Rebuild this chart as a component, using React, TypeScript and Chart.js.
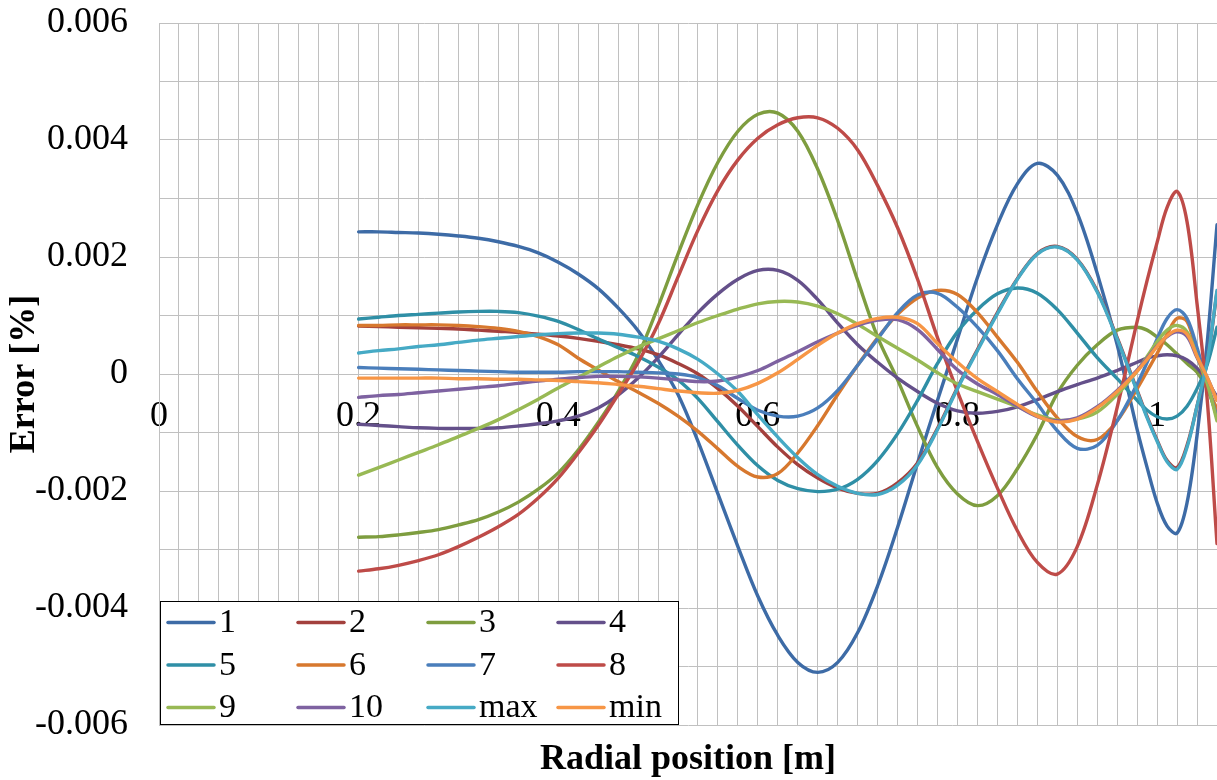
import React, { useEffect, useRef } from 'react';
import { Chart, registerables } from 'chart.js';

Chart.register(...registerables);

// Radial positions [m] (shared x values)
const radialPositions = [
  0.2, 0.22, 0.24, 0.26, 0.28, 0.3, 0.32, 0.34, 0.36, 0.38,
  0.4, 0.42, 0.44, 0.46, 0.48, 0.5, 0.52, 0.54, 0.56, 0.58,
  0.6, 0.62, 0.64, 0.66, 0.68, 0.7, 0.72, 0.74, 0.76, 0.78,
  0.8, 0.82, 0.84, 0.86, 0.88, 0.9, 0.92, 0.94, 0.96, 0.98,
  0.99, 1.0, 1.01, 1.02, 1.03, 1.04, 1.05, 1.06,
];

const series1 = [
  2.43e-3, 2.43e-3, 2.42e-3, 2.41e-3, 2.39e-3, 2.36e-3, 2.32e-3, 2.26e-3, 2.18e-3, 2.07e-3,
  1.91e-3, 1.71e-3, 1.46e-3, 1.13e-3, 0.74e-3, 0.24e-3, -0.35e-3, -1.15e-3, -2.05e-3, -2.95e-3,
  -3.8e-3, -4.47e-3, -4.93e-3, -5.1e-3, -4.93e-3, -4.42e-3, -3.62e-3, -2.62e-3, -1.52e-3, -0.45e-3,
  0.6e-3, 1.65e-3, 2.55e-3, 3.25e-3, 3.6e-3, 3.4e-3, 2.75e-3, 1.72e-3, 0.5e-3, -0.95e-3,
  -1.6e-3, -2.2e-3, -2.6e-3, -2.72e-3, -2.2e-3, -1.05e-3, 0.5e-3, 2.55e-3,
];
const series2 = [
  0.82e-3, 0.81e-3, 0.8e-3, 0.79e-3, 0.78e-3, 0.77e-3, 0.75e-3, 0.73e-3, 0.71e-3, 0.68e-3,
  0.65e-3, 0.61e-3, 0.56e-3, 0.5e-3, 0.43e-3, 0.33e-3, 0.18e-3, 0, -0.25e-3, -0.55e-3,
  -0.9e-3, -1.25e-3, -1.55e-3, -1.78e-3, -1.95e-3, -2.04e-3, -2.04e-3, -1.86e-3, -1.52e-3, -0.93e-3,
  -0.23e-3, 0.42e-3, 1.05e-3, 1.63e-3, 2.06e-3, 2.18e-3, 1.96e-3, 1.42e-3, 0.62e-3, -0.28e-3,
  -0.73e-3, -1.13e-3, -1.48e-3, -1.6e-3, -1.22e-3, -0.55e-3, 0.2e-3, 1.4e-3,
];
const series3 = [
  -2.79e-3, -2.78e-3, -2.75e-3, -2.71e-3, -2.66e-3, -2.58e-3, -2.49e-3, -2.36e-3, -2.19e-3, -1.97e-3,
  -1.69e-3, -1.3e-3, -0.83e-3, -0.3e-3, 0.32e-3, 1.15e-3, 2.05e-3, 2.9e-3, 3.62e-3, 4.15e-3,
  4.44e-3, 4.46e-3, 4.15e-3, 3.5e-3, 2.62e-3, 1.6e-3, 0.63e-3, -0.1e-3, -0.9e-3, -1.6e-3,
  -2.05e-3, -2.25e-3, -2.08e-3, -1.62e-3, -1.03e-3, -0.33e-3, 0.15e-3, 0.5e-3, 0.75e-3, 0.8e-3,
  0.75e-3, 0.63e-3, 0.5e-3, 0.34e-3, 0.18e-3, 0.03e-3, -0.25e-3, -0.7e-3,
];
const series4 = [
  -0.86e-3, -0.88e-3, -0.9e-3, -0.92e-3, -0.93e-3, -0.93e-3, -0.93e-3, -0.92e-3, -0.89e-3, -0.85e-3,
  -0.8e-3, -0.72e-3, -0.58e-3, -0.36e-3, -0.07e-3, 0.28e-3, 0.67e-3, 1.05e-3, 1.37e-3, 1.62e-3,
  1.77e-3, 1.77e-3, 1.6e-3, 1.27e-3, 0.87e-3, 0.5e-3, 0.2e-3, -0.07e-3, -0.3e-3, -0.5e-3,
  -0.63e-3, -0.67e-3, -0.64e-3, -0.56e-3, -0.44e-3, -0.3e-3, -0.18e-3, -0.07e-3, 0.06e-3, 0.2e-3,
  0.27e-3, 0.31e-3, 0.33e-3, 0.31e-3, 0.24e-3, 0.1e-3, -0.12e-3, -0.39e-3,
];
const series5 = [
  0.94e-3, 0.97e-3, 1.0e-3, 1.02e-3, 1.04e-3, 1.06e-3, 1.07e-3, 1.07e-3, 1.05e-3, 0.99e-3,
  0.9e-3, 0.76e-3, 0.6e-3, 0.45e-3, 0.3e-3, 0.12e-3, -0.1e-3, -0.42e-3, -0.82e-3, -1.22e-3,
  -1.57e-3, -1.82e-3, -1.96e-3, -2.01e-3, -1.97e-3, -1.8e-3, -1.48e-3, -1.02e-3, -0.45e-3, 0.18e-3,
  0.72e-3, 1.1e-3, 1.37e-3, 1.47e-3, 1.38e-3, 1.1e-3, 0.7e-3, 0.28e-3, -0.08e-3, -0.45e-3,
  -0.62e-3, -0.73e-3, -0.77e-3, -0.72e-3, -0.55e-3, -0.25e-3, 0.15e-3, 0.8e-3,
];
const series6 = [
  0.83e-3, 0.83e-3, 0.84e-3, 0.84e-3, 0.84e-3, 0.83e-3, 0.81e-3, 0.78e-3, 0.73e-3, 0.64e-3,
  0.5e-3, 0.27e-3, 0.07e-3, -0.13e-3, -0.31e-3, -0.5e-3, -0.72e-3, -0.98e-3, -1.28e-3, -1.58e-3,
  -1.76e-3, -1.7e-3, -1.35e-3, -0.88e-3, -0.35e-3, 0.15e-3, 0.62e-3, 1.02e-3, 1.3e-3, 1.43e-3,
  1.36e-3, 1.05e-3, 0.63e-3, 0.2e-3, -0.3e-3, -0.75e-3, -1.07e-3, -1.12e-3, -0.8e-3, -0.25e-3,
  0.05e-3, 0.35e-3, 0.68e-3, 0.95e-3, 0.9e-3, 0.35e-3, -0.2e-3, -0.6e-3,
];
const series7 = [
  0.11e-3, 0.1e-3, 0.09e-3, 0.08e-3, 0.07e-3, 0.06e-3, 0.05e-3, 0.04e-3, 0.03e-3, 0.03e-3,
  0.03e-3, 0.04e-3, 0.04e-3, 0.04e-3, 0.03e-3, 0.02e-3, 0, -0.06e-3, -0.2e-3, -0.42e-3,
  -0.62e-3, -0.72e-3, -0.72e-3, -0.58e-3, -0.28e-3, 0.15e-3, 0.6e-3, 1.05e-3, 1.35e-3, 1.38e-3,
  1.14e-3, 0.8e-3, 0.4e-3, -0.08e-3, -0.51e-3, -0.97e-3, -1.27e-3, -1.22e-3, -0.8e-3, -0.17e-3,
  0.2e-3, 0.6e-3, 0.95e-3, 1.1e-3, 0.95e-3, 0.45e-3, -0.15e-3, -0.75e-3,
];
const series8 = [
  -3.37e-3, -3.33e-3, -3.27e-3, -3.19e-3, -3.09e-3, -2.95e-3, -2.79e-3, -2.61e-3, -2.4e-3, -2.12e-3,
  -1.78e-3, -1.35e-3, -0.88e-3, -0.35e-3, 0.2e-3, 0.85e-3, 1.66e-3, 2.46e-3, 3.14e-3, 3.66e-3,
  4.03e-3, 4.26e-3, 4.38e-3, 4.38e-3, 4.2e-3, 3.83e-3, 3.22e-3, 2.5e-3, 1.62e-3, 0.62e-3,
  -0.3e-3, -1.15e-3, -1.95e-3, -2.68e-3, -3.22e-3, -3.42e-3, -2.95e-3, -1.9e-3, -0.57e-3, 0.9e-3,
  1.6e-3, 2.25e-3, 2.85e-3, 3.12e-3, 2.6e-3, 1.2e-3, -0.4e-3, -2.9e-3,
];
const series9 = [
  -1.73e-3, -1.6e-3, -1.47e-3, -1.34e-3, -1.21e-3, -1.07e-3, -0.93e-3, -0.78e-3, -0.61e-3, -0.43e-3,
  -0.24e-3, -0.06e-3, 0.12e-3, 0.3e-3, 0.46e-3, 0.6e-3, 0.74e-3, 0.88e-3, 1.0e-3, 1.11e-3,
  1.2e-3, 1.24e-3, 1.23e-3, 1.16e-3, 1.03e-3, 0.85e-3, 0.64e-3, 0.44e-3, 0.24e-3, 0.02e-3,
  -0.17e-3, -0.3e-3, -0.43e-3, -0.56e-3, -0.7e-3, -0.79e-3, -0.77e-3, -0.65e-3, -0.35e-3, 0.05e-3,
  0.3e-3, 0.55e-3, 0.75e-3, 0.83e-3, 0.72e-3, 0.3e-3, -0.15e-3, -0.8e-3,
];
const series10 = [
  -0.4e-3, -0.37e-3, -0.35e-3, -0.32e-3, -0.29e-3, -0.26e-3, -0.23e-3, -0.2e-3, -0.16e-3, -0.12e-3,
  -0.09e-3, -0.06e-3, -0.04e-3, -0.04e-3, -0.05e-3, -0.07e-3, -0.1e-3, -0.13e-3, -0.12e-3, -0.05e-3,
  0.06e-3, 0.22e-3, 0.38e-3, 0.55e-3, 0.7e-3, 0.83e-3, 0.92e-3, 0.93e-3, 0.76e-3, 0.42e-3,
  0.07e-3, -0.17e-3, -0.35e-3, -0.55e-3, -0.73e-3, -0.8e-3, -0.75e-3, -0.56e-3, -0.28e-3, 0.07e-3,
  0.27e-3, 0.48e-3, 0.64e-3, 0.72e-3, 0.64e-3, 0.28e-3, -0.05e-3, -0.45e-3,
];
const seriesMax = [
  0.36e-3, 0.4e-3, 0.43e-3, 0.47e-3, 0.5e-3, 0.54e-3, 0.58e-3, 0.61e-3, 0.64e-3, 0.67e-3,
  0.69e-3, 0.7e-3, 0.7e-3, 0.68e-3, 0.63e-3, 0.56e-3, 0.43e-3, 0.25e-3, 0, -0.3e-3,
  -0.7e-3, -1.08e-3, -1.43e-3, -1.72e-3, -1.92e-3, -2.04e-3, -2.06e-3, -1.9e-3, -1.55e-3, -0.95e-3,
  -0.25e-3, 0.4e-3, 1.03e-3, 1.62e-3, 2.05e-3, 2.17e-3, 1.95e-3, 1.4e-3, 0.6e-3, -0.3e-3,
  -0.75e-3, -1.15e-3, -1.5e-3, -1.63e-3, -1.25e-3, -0.55e-3, 0.2e-3, 1.43e-3,
];
const seriesMin = [
  -0.07e-3, -0.07e-3, -0.07e-3, -0.07e-3, -0.07e-3, -0.08e-3, -0.08e-3, -0.09e-3, -0.09e-3, -0.1e-3,
  -0.11e-3, -0.13e-3, -0.15e-3, -0.18e-3, -0.21e-3, -0.25e-3, -0.29e-3, -0.32e-3, -0.33e-3, -0.28e-3,
  -0.16e-3, 0.02e-3, 0.25e-3, 0.49e-3, 0.7e-3, 0.86e-3, 0.95e-3, 0.97e-3, 0.86e-3, 0.52e-3,
  0.2e-3, -0.08e-3, -0.3e-3, -0.52e-3, -0.72e-3, -0.82e-3, -0.77e-3, -0.58e-3, -0.3e-3, 0.05e-3,
  0.25e-3, 0.47e-3, 0.65e-3, 0.75e-3, 0.68e-3, 0.3e-3, -0.05e-3, -0.45e-3,
];

const seriesNames = ['1', '2', '3', '4', '5', '6', '7', '8', '9', '10', 'max', 'min'];
const seriesColors = [
  '#3D6BA6', '#A3403D', '#7E9D3F', '#64508A', '#2F8FA6', '#D7782E',
  '#4A7EBB', '#BE4B48', '#98B954', '#7E62A1', '#46AAC5', '#F79646',
];

const xTitle = 'Radial position [m]';
const yTitle = 'Error [%]';

const FONT = "'Liberation Serif', 'Times New Roman', serif";
const GRID = '#c0c0c0';

const textPlugin = {
  id: 'customText',
  afterDraw(chart: any) {
    const ctx = chart.ctx as CanvasRenderingContext2D;
    const ca = chart.chartArea;
    ctx.save();
    // axis titles
    ctx.fillStyle = '#000';
    ctx.font = `bold 36px ${FONT}`;
    ctx.textAlign = 'center';
    ctx.textBaseline = 'middle';
    ctx.fillText(xTitle, (ca.left + ca.right) / 2, 760);
    ctx.save();
    ctx.translate(25, (ca.top + ca.bottom) / 2);
    ctx.rotate(-Math.PI / 2);
    ctx.fillText(yTitle, 0, 0);
    ctx.restore();

    // legend box
    const bx = ca.left + 1;
    const by = 601;
    const bw = 519;
    const bh = ca.bottom - by;
    ctx.fillStyle = '#fff';
    ctx.fillRect(bx, by, bw, bh);
    ctx.strokeStyle = '#000';
    ctx.lineWidth = 1;
    ctx.strokeRect(bx + 0.5, by + 0.5, bw - 1, bh - 1);
    ctx.font = `34px ${FONT}`;
    ctx.textAlign = 'left';
    ctx.textBaseline = 'middle';
    ctx.lineCap = 'round';
    seriesNames.forEach((name, i) => {
      const row = Math.floor(i / 4);
      const col = i % 4;
      const lx = bx + 8 + col * 130;
      const ly = by + 21.5 + row * 42.5;
      ctx.strokeStyle = seriesColors[i];
      ctx.lineWidth = 3.5;
      ctx.beginPath();
      ctx.moveTo(lx, ly);
      ctx.lineTo(lx + 46, ly);
      ctx.stroke();
      ctx.fillStyle = '#000';
      ctx.fillText(name, lx + 51, ly + 1);
    });
    ctx.restore();
  },
};

export default function App() {
  const ref = useRef<HTMLCanvasElement>(null);
  useEffect(() => {
    if (!ref.current) return;
    const allSeries = [
      series1, series2, series3, series4, series5, series6,
      series7, series8, series9, series10, seriesMax, seriesMin,
    ];
    const datasets = allSeries.map((vals, i) => ({
      label: seriesNames[i],
      data: vals.map((v, j) => ({ x: radialPositions[j], y: v })),
      borderColor: seriesColors[i],
      backgroundColor: seriesColors[i],
      borderWidth: 3.4,
      pointRadius: 0,
      tension: 0.35,
      fill: false,
      borderCapStyle: 'round' as const,
      borderJoinStyle: 'round' as const,
      order: allSeries.length - i,
    }));
    const chart = new Chart(ref.current, {
      type: 'line',
      data: { datasets },
      options: {
        animation: false,
        responsive: false,
        devicePixelRatio: 1,
        layout: { padding: { top: 23, bottom: 55, left: 0, right: 0 } },
        plugins: {
          legend: { display: false },
          tooltip: { enabled: false },
        },
        scales: {
          x: {
            type: 'linear',
            min: 0,
            max: 1.06,
            position: { y: 0 } as any,
            grid: { color: GRID, lineWidth: 1, drawTicks: true, tickLength: 21, tickColor: 'rgba(0,0,0,0)' },
            border: { display: true, color: GRID, width: 1 },
            ticks: {
              stepSize: 0.02,
              autoSkip: false,
              maxRotation: 0,
              padding: 0,
              color: '#000',
              font: { family: FONT, size: 36 },
              callback: (value: any) => {
                const k = Math.round(Number(value) * 100);
                return k % 20 === 0 ? String(k / 100) : '';
              },
            },
          },
          y: {
            type: 'linear',
            min: -0.006,
            max: 0.006,
            grid: { color: GRID, lineWidth: 1, drawTicks: true, tickLength: 31, tickColor: 'rgba(0,0,0,0)' },
            border: { display: true, color: GRID, width: 1 },
            ticks: {
              stepSize: 0.001,
              autoSkip: false,
              padding: 0,
              color: '#000',
              font: { family: FONT, size: 36 },
              callback: (value: any) => {
                const k = Math.round(Number(value) * 1000);
                if (k % 2 !== 0) return '';
                return k === 0 ? '0' : (k / 1000).toFixed(3);
              },
            },
            afterFit: (scale: any) => {
              scale.width = 159;
            },
          },
        },
      },
      plugins: [textPlugin],
    });
    return () => chart.destroy();
  }, []);
  return (
    <div style={{ position: 'absolute', left: 0, top: 0, width: 1217, height: 780, background: '#fff' }}>
      <canvas ref={ref} width={1217} height={780} style={{ display: 'block' }} />
    </div>
  );
}
